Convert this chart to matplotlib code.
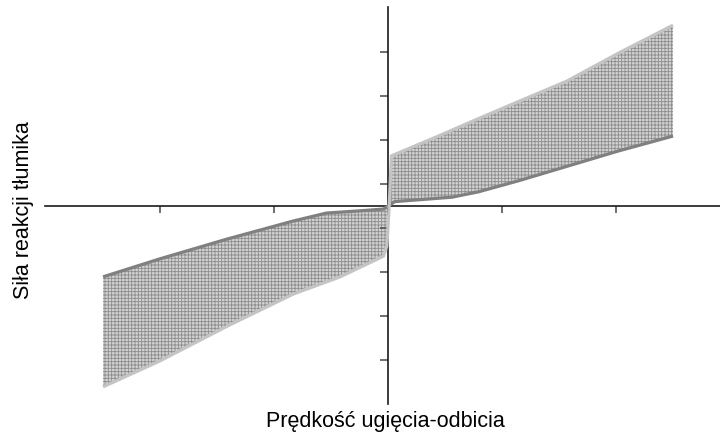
import numpy as np
import matplotlib.pyplot as plt

plt.rcParams['font.family'] = ['Liberation Sans', 'DejaVu Sans']
plt.rcParams['hatch.linewidth'] = 0.6

# light curve: upper bound on the right, lower bound on the left
light_x = [-2.5, -2.0, -1.41, -0.83, -0.42, -0.04, -0.01, 0.01, 0.03, 0.46, 0.68, 1.04, 1.57, 2.04, 2.5]
light_y = [-4.11, -3.52, -2.73, -2.0, -1.61, -1.14, -0.91, 0.0, 1.14, 1.61, 1.86, 2.26, 2.84, 3.5, 4.11]

# dark curve
dark_x = [-2.5, -2.0, -1.41, -0.83, -0.54, -0.25, -0.04, 0.0, 0.06, 0.26, 0.56, 0.79, 1.14, 1.58, 2.02, 2.5]
dark_y = [-1.61, -1.2, -0.75, -0.34, -0.16, -0.11, -0.07, 0.0, 0.1, 0.14, 0.2, 0.32, 0.57, 0.91, 1.25, 1.59]

xticks = [-2, -1, 1, 2]
yticks = [-3.5, -2.5, -1.5, -0.5, 0.5, 1.5, 2.5, 3.5]

xlabel = "Prędkość ugięcia-odbicia"
ylabel = "Siła reakcji tłumika"

lx, ly = np.array(light_x), np.array(light_y)
dx, dy = np.array(dark_x), np.array(dark_y)

fig = plt.figure(figsize=(7.2, 4.39), dpi=100)
ax = fig.add_axes([0, 0, 1, 1])
ax.set_xlim(-3.404, 2.912)
ax.set_ylim(-5.273, 4.705)

# shaded band between the two curves, each half separately
for side in (lx <= 0, lx >= 0):
    dside = (dx <= 0) if side[0] else (dx >= 0)
    px = np.r_[lx[side], dx[dside][::-1]]
    py = np.r_[ly[side], dy[dside][::-1]]
    ax.fill(px, py, facecolor='#d2d2d2', edgecolor='#8c8c8c', hatch='+++++', lw=0, zorder=1)

ax.plot(dx, dy, color='#808080', lw=2.3, solid_capstyle='butt', zorder=3)
ax.plot(lx, ly, color='#c4c4c4', lw=2.3, solid_capstyle='butt', zorder=3)

# axes crossing at the origin
for s in ['top', 'right']:
    ax.spines[s].set_visible(False)
ax.spines['left'].set_position(('data', 0))
ax.spines['bottom'].set_position(('data', 0))
ax.spines['left'].set_bounds(-4.5, 4.52)
ax.spines['bottom'].set_bounds(-3.01, 2.912)
for s in ['left', 'bottom']:
    ax.spines[s].set_linewidth(1.2)
    ax.spines[s].set_color('#1a1a1a')
    ax.spines[s].set_zorder(2)

ax.set_xticks(xticks)
ax.set_yticks(yticks)
ax.set_xticklabels([])
ax.set_yticklabels([])
ax.tick_params(axis='x', direction='out', length=5, width=1.2, color='#555555')
ax.tick_params(axis='y', direction='out', length=6, width=1.2, color='#555555')

fig.text(385 / 720, 1 - 422 / 439, xlabel, fontsize=15.5, ha='center', va='center')
fig.text(24 / 720, 1 - 210 / 439, ylabel, fontsize=15.5, ha='center', va='center', rotation=90)

fig.savefig('out.png', dpi=100)
